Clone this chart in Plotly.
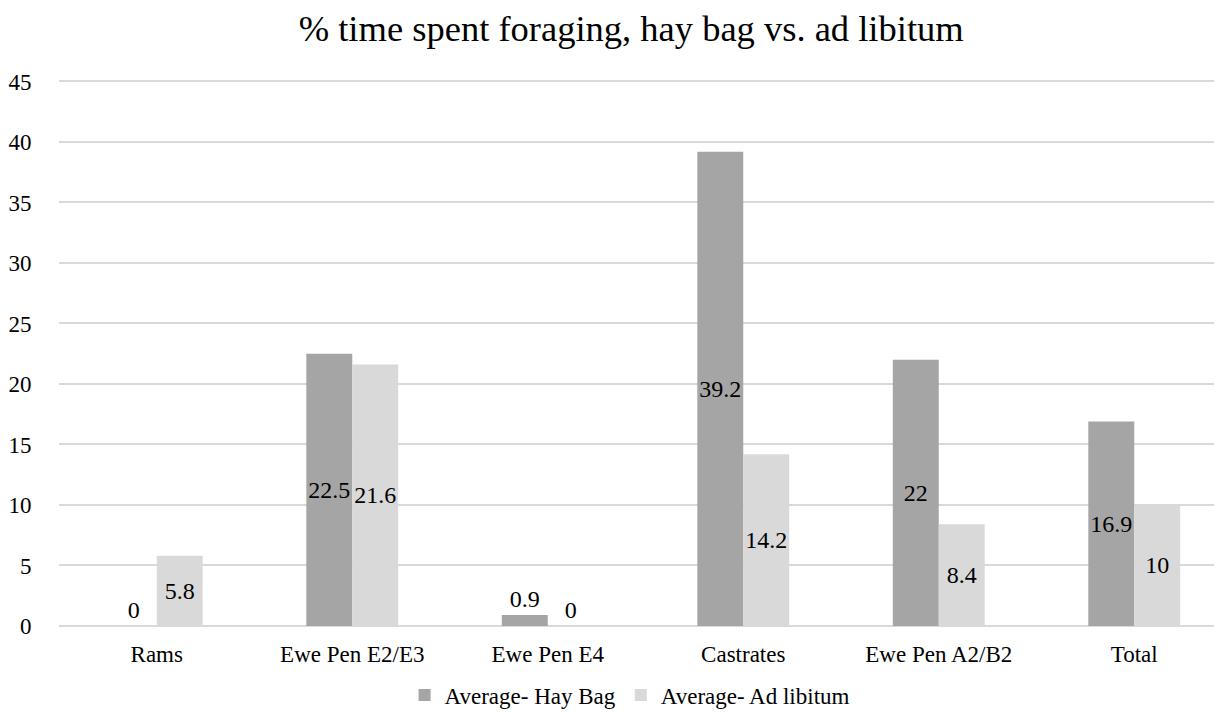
import plotly.graph_objects as go

categories = ["Rams", "Ewe Pen E2/E3", "Ewe Pen E4", "Castrates", "Ewe Pen A2/B2", "Total"]
hay_bag = [0, 22.5, 0.9, 39.2, 22, 16.9]
ad_libitum = [5.8, 21.6, 0, 14.2, 8.4, 10]
series_names = ["Average- Hay Bag", "Average- Ad libitum"]
y_ticks = [0, 5, 10, 15, 20, 25, 30, 35, 40, 45]

FONT = "Liberation Serif"
colors = ["#a5a5a5", "#d9d9d9"]

fig = go.Figure()
for name, vals, col in zip(series_names, [hay_bag, ad_libitum], colors):
    fig.add_trace(go.Bar(
        x=categories, y=vals, name=name, marker=dict(color=col, line=dict(width=0)),
        text=[f"{v:g}" for v in vals],
        textposition=["outside" if v < 2 else "inside" for v in vals],
        insidetextanchor="middle", textangle=0, constraintext="none",
        textfont=dict(family=FONT, size=24, color="#000000"),
        insidetextfont=dict(family=FONT, size=24, color="#000000"),
        outsidetextfont=dict(family=FONT, size=24, color="#000000"),
        cliponaxis=False,
    ))

n = len(categories)
W, H = 1214, 707
fig.update_layout(
    width=W, height=H,
    paper_bgcolor="white", plot_bgcolor="white",
    margin=dict(l=51, r=0, t=72, b=89, autoexpand=False),
    barmode="group", bargap=0.53, bargroupgap=0,
    title=dict(text="% time spent foraging, hay bag vs. ad libitum", x=0.492, xref="paper",
               xanchor="center",
               y=1 - 20 / H, yref="container", yanchor="middle",
               font=dict(family=FONT, size=36.5, color="#000000")),
    font=dict(family=FONT, color="#000000"),
    legend=dict(orientation="h", x=0.4906, xanchor="center", xref="paper",
                y=1 - 687 / H, yref="container", yanchor="middle",
                bgcolor="rgba(0,0,0,0)",
                font=dict(family=FONT, size=23, color="#000000"), itemwidth=30,
                traceorder="normal"),
    xaxis=dict(type="category", range=[-0.5, n - 0.5 - 10 / 195.4], showgrid=False,
               showline=False, ticks="outside", ticklen=7, tickcolor="rgba(0,0,0,0)",
               automargin=False,
               tickfont=dict(family=FONT, size=23, color="#000000")),
    yaxis=dict(range=[0, 45.12], tickvals=y_ticks, showgrid=True, gridcolor="#d9d9d9",
               gridwidth=2, zeroline=True, zerolinecolor="#d9d9d9", zerolinewidth=2,
               showline=False, ticks="outside", ticklen=22, tickcolor="rgba(0,0,0,0)",
               automargin=False,
               tickfont=dict(family=FONT, size=23, color="#000000")),
)

fig.write_html("out.html")
